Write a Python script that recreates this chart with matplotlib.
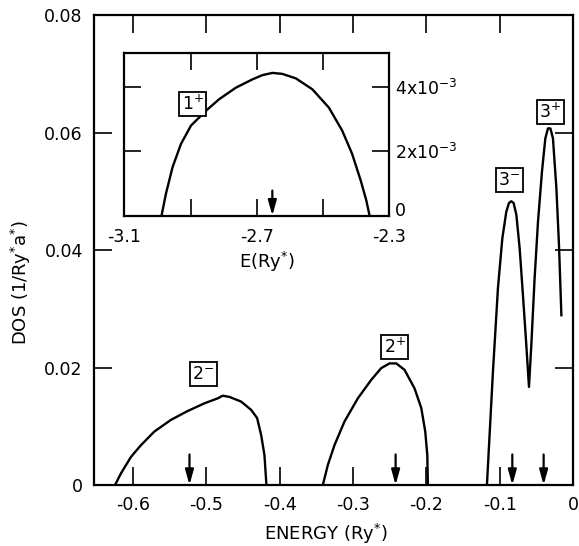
import matplotlib
matplotlib.use("Agg")
import matplotlib.pyplot as plt
from matplotlib.transforms import ScaledTranslation

# ---- band data: energy (Ry*) vs density of states (1/Ry* a*^2) ----
band_2m_E = [-0.6243, -0.6161, -0.6025, -0.5888, -0.5707, -0.5479, -0.5252, -0.5025,
             -0.4843, -0.4775, -0.4684, -0.4524, -0.4388, -0.4306, -0.4251, -0.4206, -0.4179]
band_2m_D = [0.0, 0.0020, 0.0048, 0.0068, 0.0091, 0.0111, 0.0126, 0.0139,
             0.01475, 0.0152, 0.0150, 0.0142, 0.0128, 0.0114, 0.0085, 0.0051, 0.0]

band_2p_E = [-0.3410, -0.3342, -0.3251, -0.3115, -0.2933, -0.2750, -0.2614, -0.2501,
             -0.2409, -0.2296, -0.2160, -0.2068, -0.2014, -0.1986, -0.1978]
band_2p_D = [0.0, 0.0034, 0.0068, 0.0108, 0.01475, 0.0179, 0.0199, 0.0207,
             0.0207, 0.0196, 0.01645, 0.0131, 0.0091, 0.0051, 0.0]

band_3_E = [-0.1173, -0.1091, -0.1023, -0.0963, -0.0909, -0.0873, -0.0841, -0.0809,
            -0.0772, -0.0727, -0.0682, -0.0636, -0.0600, -0.0568, -0.0523, -0.0477,
            -0.0423, -0.0377, -0.0341, -0.0308, -0.0273, -0.0226, -0.0191, -0.0158]
band_3_D = [0.0, 0.0193, 0.0335, 0.0420, 0.0465, 0.0480, 0.0483, 0.0480,
            0.0460, 0.0403, 0.0323, 0.0238, 0.0167, 0.0238, 0.0352, 0.0448,
            0.0533, 0.0590, 0.0607, 0.0607, 0.0590, 0.0505, 0.0409, 0.0289]

# lowest band (inset)
band_1p_E = [-2.988, -2.9745, -2.9546, -2.9293, -2.899, -2.854, -2.814, -2.7633, -2.713,
             -2.683, -2.653, -2.623, -2.582, -2.532, -2.482, -2.442, -2.412, -2.386,
             -2.369, -2.359]
band_1p_D = [0.0, 0.69e-3, 1.51e-3, 2.23e-3, 2.80e-3, 3.26e-3, 3.62e-3, 3.98e-3, 4.24e-3,
             4.37e-3, 4.44e-3, 4.41e-3, 4.27e-3, 3.93e-3, 3.36e-3, 2.65e-3, 1.93e-3, 1.10e-3,
             0.48e-3, 0.0]

# level markers (arrows)
arrow_E = [-0.5228, -0.2418, -0.0827, -0.040]
inset_arrow_E = [-2.653]

# band labels: (text, energy, dos)
band_labels = [("2$^{-}$", -0.504, 0.0189), ("2$^{+}$", -0.243, 0.0235),
               ("3$^{-}$", -0.087, 0.0519), ("3$^{+}$", -0.031, 0.0635)]
inset_label = ("1$^{+}$", -2.894, 3.48e-3)

main_xticks = [-0.6, -0.5, -0.4, -0.3, -0.2, -0.1, 0.0]
main_xticklabels = ["-0.6", "-0.5", "-0.4", "-0.3", "-0.2", "-0.1", "0"]
main_yticks = [0, 0.02, 0.04, 0.06, 0.08]
main_yticklabels = ["0", "0.02", "0.04", "0.06", "0.08"]
inset_xticks = [-3.1, -2.9, -2.7, -2.5, -2.3]
inset_xticklabels = ["-3.1", "", "-2.7", "", "-2.3"]
inset_yticks = [0, 2e-3, 4e-3]
inset_yticklabels = ["0", "2x10$^{-3}$", "4x10$^{-3}$"]

FS = 12.5
LW = 1.7

fig = plt.figure(figsize=(5.79, 5.46), dpi=100)
ax = fig.add_axes([0.1623, 0.1117, 0.8273, 0.8608])

for E, D in [(band_2m_E, band_2m_D), (band_2p_E, band_2p_D), (band_3_E, band_3_D)]:
    ax.plot(E, D, color="black", lw=LW, solid_joinstyle="round")

ax.set_xlim(-0.653, 0.0)
ax.set_ylim(0, 0.08)
ax.set_xticks(main_xticks)
ax.set_xticklabels(main_xticklabels, fontsize=FS)
ax.set_yticks(main_yticks)
ax.set_yticklabels(main_yticklabels, fontsize=FS)
ax.tick_params(direction="in", length=13, width=1.2, top=True, right=True, pad=8)
for s in ax.spines.values():
    s.set_linewidth(1.6)

ax.set_xlabel("ENERGY (Ry$^{*}$)", fontsize=FS + 0.5)
ax.xaxis.set_label_coords(0.485, -0.078)
ax.set_ylabel("DOS (1/Ry$^{*}$a$^{*}$)", fontsize=FS + 0.5)
ax.yaxis.set_label_coords(-0.128, 0.43)

for E in arrow_E:
    ax.annotate("", xy=(E, 0.0), xytext=(E, 0.0052),
                arrowprops=dict(arrowstyle="-|>,head_length=0.9,head_width=0.25",
                                color="black", lw=1.6, shrinkA=0, shrinkB=0))

box = dict(boxstyle="square,pad=0.15", fc="white", ec="black", lw=1.3)
for txt, E, D in band_labels:
    ax.text(E, D, txt, fontsize=FS, ha="center", va="center", bbox=box)

# inset: lowest band
ins = fig.add_axes([0.215, 0.605, 0.457, 0.298])
ins.plot(band_1p_E, band_1p_D, color="black", lw=LW, solid_joinstyle="round")
ins.set_xlim(-3.1, -2.3)
ins.set_ylim(0, 5.06e-3)
ins.set_xticks(inset_xticks)
ins.set_xticklabels(inset_xticklabels, fontsize=FS)
ins.set_yticks(inset_yticks)
ins.set_yticklabels(inset_yticklabels, fontsize=FS)
ins.yaxis.tick_right()
ins.tick_params(direction="in", length=12, width=1.2, top=True, left=True, right=True,
                labelleft=False, labelright=True, pad=4)
ins.tick_params(axis="x", pad=9)
for s in ins.spines.values():
    s.set_linewidth(1.6)
# lift the zero label a little so it sits above the -2.3 label
zero_lbl = ins.get_yticklabels()[0]
zero_lbl.set_transform(zero_lbl.get_transform() + ScaledTranslation(0, 5 / 72, fig.dpi_scale_trans))
ins.set_xlabel("E(Ry$^{*}$)", fontsize=FS + 0.5)
ins.xaxis.set_label_coords(0.54, -0.21)

for E in inset_arrow_E:
    ins.annotate("", xy=(E, 0.0), xytext=(E, 0.78e-3),
                 arrowprops=dict(arrowstyle="-|>,head_length=0.9,head_width=0.25",
                                 color="black", lw=1.6, shrinkA=0, shrinkB=0))
ins.text(inset_label[1], inset_label[2], inset_label[0], fontsize=FS,
         ha="center", va="center", bbox=box)

fig.savefig("out.png", dpi=100)
